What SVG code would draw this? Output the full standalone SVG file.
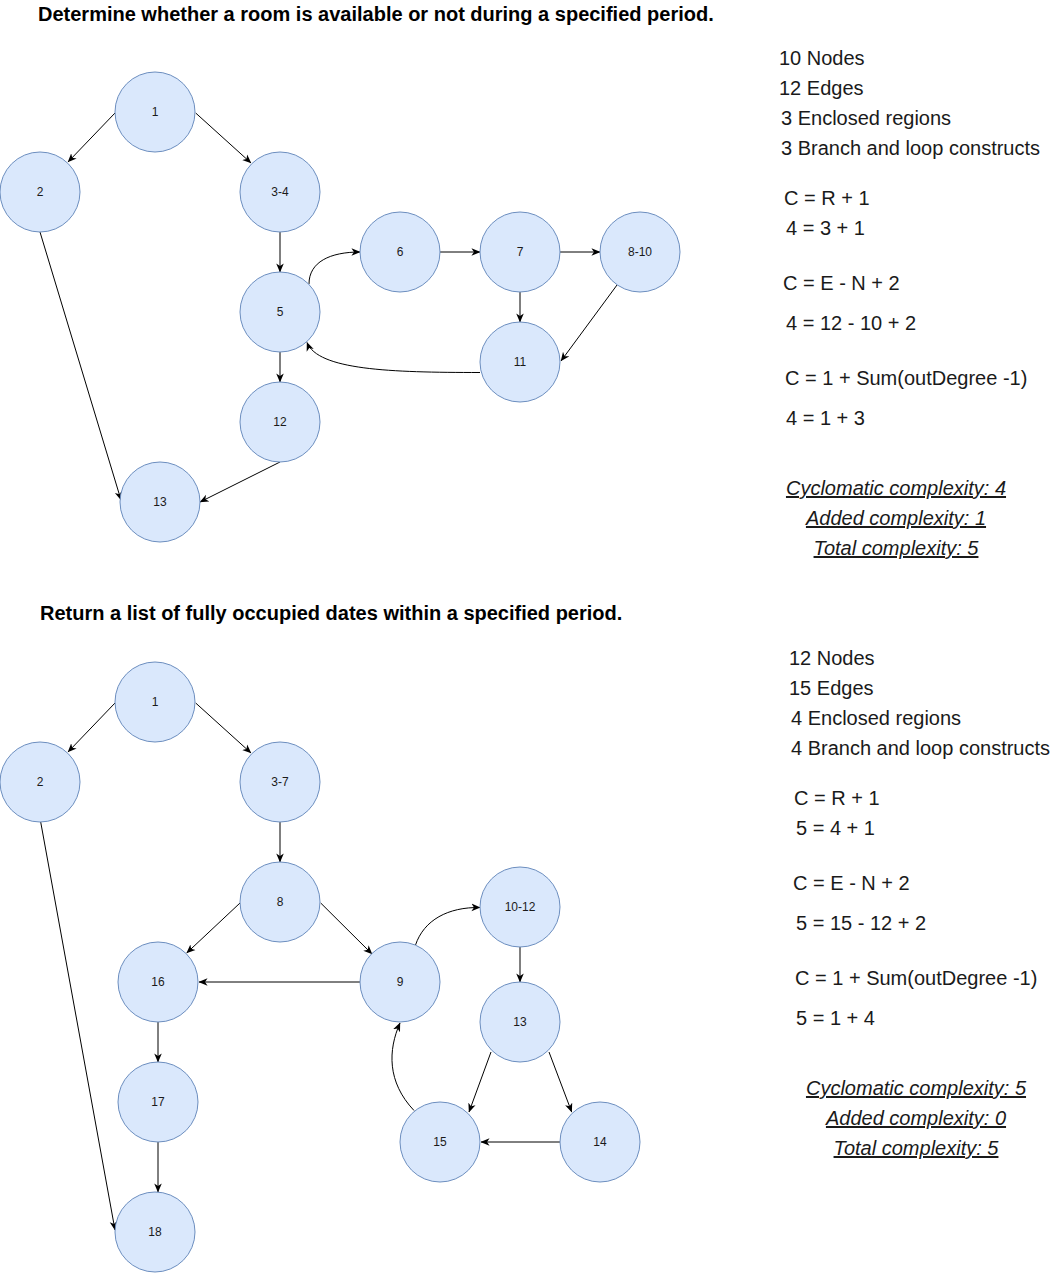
<svg xmlns="http://www.w3.org/2000/svg" width="1056" height="1273" viewBox="0 0 1056 1273">
<defs>
<marker id="arr" viewBox="0 0 10 10" refX="9.5" refY="5" markerWidth="9" markerHeight="9" markerUnits="userSpaceOnUse" orient="auto">
<path d="M0,0.8 L10,5 L0,9.2 L2.8,5 Z" fill="#000"/>
</marker>
<style>
.n circle{fill:#dae8fc;stroke:#6c8ebf;stroke-width:1}
.n text{font-family:"Liberation Sans",Arial,sans-serif;font-size:12px;fill:#1a1a1a;text-anchor:middle;dominant-baseline:central}
.e path{fill:none;stroke:#000;stroke-width:1;marker-end:url(#arr)}
.t{font-family:"Liberation Sans",Arial,sans-serif;font-size:20px;fill:#1a1a1a}
.u{font-style:italic;text-decoration:underline;text-anchor:middle}
.h{font-family:"Liberation Sans",Arial,sans-serif;font-size:20px;font-weight:bold;fill:#000}
</style>
</defs>
<rect width="1056" height="1273" fill="#fff"/>

<text class="h" x="38" y="21">Determine whether a room is available or not during a specified period.</text>
<text class="h" x="40" y="620">Return a list of fully occupied dates within a specified period.</text>

<g id="edges" class="e">
<path d="M115,113 L68,162"/>
<path d="M195.7,113 L251,163"/>
<path d="M40,232 L121,500"/>
<path d="M280,232 L280,272"/>
<path d="M309,284 C309,262 330,252 360,252"/>
<path d="M440,252 L480,252"/>
<path d="M560,252 L600,252"/>
<path d="M520,292 L520,322"/>
<path d="M617,285 L561,361"/>
<path d="M480,372.5 C390,372.5 318,370 307,342.5"/>
<path d="M280,352 L280,382"/>
<path d="M280,462 L200,502"/>

<path d="M115,703 L68,752"/>
<path d="M195.7,703 L251,753"/>
<path d="M40.7,822 L115,1230"/>
<path d="M280,822 L280,862"/>
<path d="M240,903 L186.7,953"/>
<path d="M320.7,903 L372,954"/>
<path d="M360,982 L199,982"/>
<path d="M415.5,945 C424,920 448,907 480,907.5"/>
<path d="M520,947 L520,982"/>
<path d="M491,1052 L469,1112"/>
<path d="M549,1052 L571.7,1112"/>
<path d="M560,1142 L481,1142"/>
<path d="M414,1110.5 C387,1082 388,1050 400,1023"/>
<path d="M158,1022 L158,1062"/>
<path d="M158,1142 L158,1192"/>
</g>

<g id="t1" class="n"><circle cx="155" cy="112" r="40"/><text x="155" y="112">1</text></g>
<g id="t2" class="n"><circle cx="40" cy="192" r="40"/><text x="40" y="192">2</text></g>
<g id="t3-4" class="n"><circle cx="280" cy="192" r="40"/><text x="280" y="192">3-4</text></g>
<g id="t5" class="n"><circle cx="280" cy="312" r="40"/><text x="280" y="312">5</text></g>
<g id="t6" class="n"><circle cx="400" cy="252" r="40"/><text x="400" y="252">6</text></g>
<g id="t7" class="n"><circle cx="520" cy="252" r="40"/><text x="520" y="252">7</text></g>
<g id="t8-10" class="n"><circle cx="640" cy="252" r="40"/><text x="640" y="252">8-10</text></g>
<g id="t11" class="n"><circle cx="520" cy="362" r="40"/><text x="520" y="362">11</text></g>
<g id="t12" class="n"><circle cx="280" cy="422" r="40"/><text x="280" y="422">12</text></g>
<g id="t13" class="n"><circle cx="160" cy="502" r="40"/><text x="160" y="502">13</text></g>

<g id="b1" class="n"><circle cx="155" cy="702" r="40"/><text x="155" y="702">1</text></g>
<g id="b2" class="n"><circle cx="40" cy="782" r="40"/><text x="40" y="782">2</text></g>
<g id="b3-7" class="n"><circle cx="280" cy="782" r="40"/><text x="280" y="782">3-7</text></g>
<g id="b8" class="n"><circle cx="280" cy="902" r="40"/><text x="280" y="902">8</text></g>
<g id="b16" class="n"><circle cx="158" cy="982" r="40"/><text x="158" y="982">16</text></g>
<g id="b9" class="n"><circle cx="400" cy="982" r="40"/><text x="400" y="982">9</text></g>
<g id="b10-12" class="n"><circle cx="520" cy="907" r="40"/><text x="520" y="907">10-12</text></g>
<g id="b13" class="n"><circle cx="520" cy="1022" r="40"/><text x="520" y="1022">13</text></g>
<g id="b17" class="n"><circle cx="158" cy="1102" r="40"/><text x="158" y="1102">17</text></g>
<g id="b15" class="n"><circle cx="440" cy="1142" r="40"/><text x="440" y="1142">15</text></g>
<g id="b14" class="n"><circle cx="600" cy="1142" r="40"/><text x="600" y="1142">14</text></g>
<g id="b18" class="n"><circle cx="155" cy="1232" r="40"/><text x="155" y="1232">18</text></g>

<g id="info1" class="t">
<text x="779" y="65">10 Nodes</text>
<text x="779" y="95">12 Edges</text>
<text x="781" y="125">3 Enclosed regions</text>
<text x="781" y="155">3 Branch and loop constructs</text>
<text x="784" y="205">C = R + 1</text>
<text x="786" y="235">4 = 3 + 1</text>
<text x="783" y="290">C = E - N + 2</text>
<text x="786" y="330">4 = 12 - 10 + 2</text>
<text x="785" y="385">C = 1 + Sum(outDegree -1)</text>
<text x="786" y="425">4 = 1 + 3</text>
<text class="u" x="896" y="495">Cyclomatic complexity: 4</text>
<text class="u" x="896" y="525">Added complexity: 1</text>
<text class="u" x="896" y="555">Total complexity: 5</text>
</g>

<g id="info2" class="t">
<text x="789" y="665">12 Nodes</text>
<text x="789" y="695">15 Edges</text>
<text x="791" y="725">4 Enclosed regions</text>
<text x="791" y="755">4 Branch and loop constructs</text>
<text x="794" y="805">C = R + 1</text>
<text x="796" y="835">5 = 4 + 1</text>
<text x="793" y="890">C = E - N + 2</text>
<text x="796" y="930">5 = 15 - 12 + 2</text>
<text x="795" y="985">C = 1 + Sum(outDegree -1)</text>
<text x="796" y="1025">5 = 1 + 4</text>
<text class="u" x="916" y="1095">Cyclomatic complexity: 5</text>
<text class="u" x="916" y="1125">Added complexity: 0</text>
<text class="u" x="916" y="1155">Total complexity: 5</text>
</g>
</svg>
